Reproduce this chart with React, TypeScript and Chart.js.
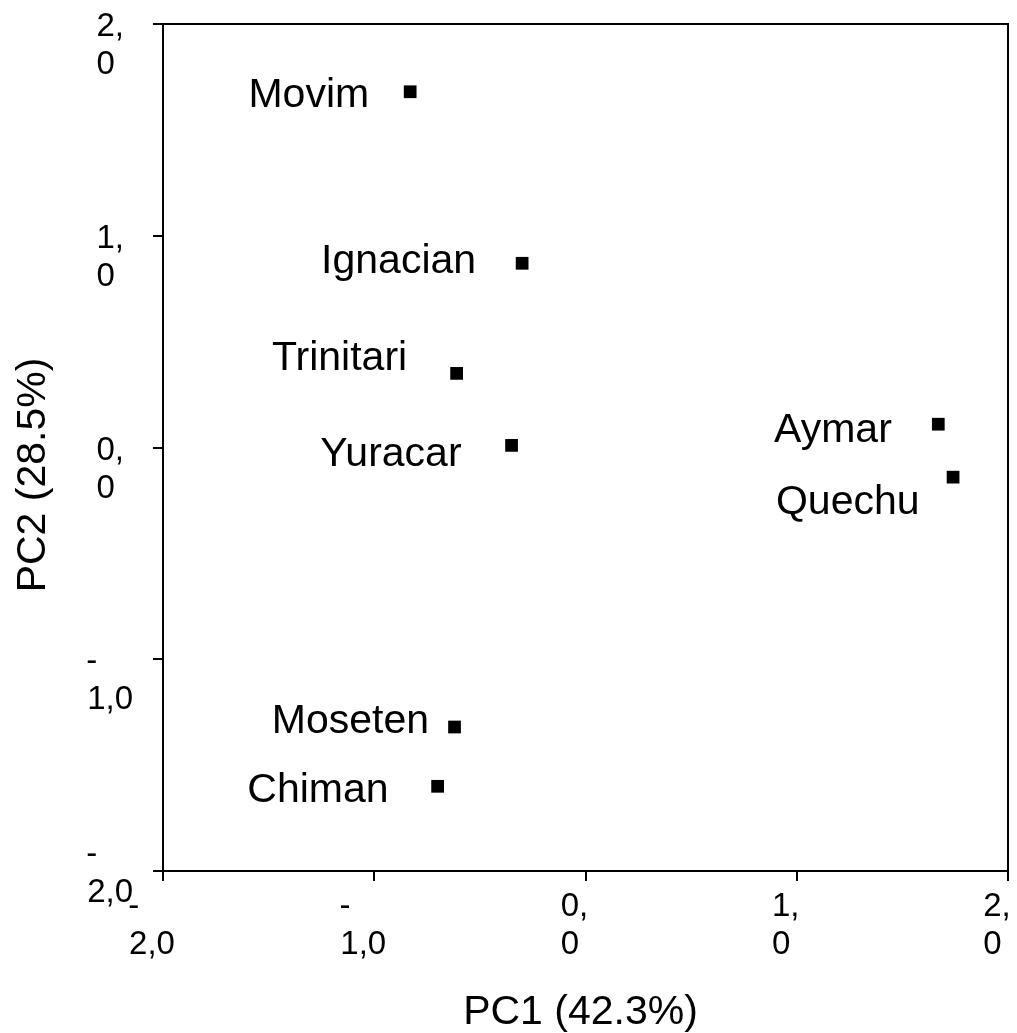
import { useEffect, useRef } from "react";
import { Chart, registerables } from "chart.js";

Chart.register(...registerables);

// Scores of each group on the first two principal components
const groups = ["Movim", "Ignacian", "Trinitari", "Yuracar", "Aymar", "Quechu", "Moseten", "Chiman"];
const pc1 = [-0.83, -0.3, -0.61, -0.35, 1.67, 1.74, -0.62, -0.7];
const pc2 = [1.68, 0.87, 0.35, 0.01, 0.11, -0.14, -1.32, -1.6];

// Tick labels are broken over two lines; trailing spaces keep the lines left-aligned
const xTickValues = [-2, -1, 0, 1, 2];
const xTickLabels = [
  ["-    ", "2,0"],
  ["-    ", "1,0"],
  ["0,", "0 "],
  ["1,", "0 "],
  ["2,", "0 "],
];
const yTickValues = [-2, -1, 0, 1, 2];
const yTickLabels = [
  ["-    ", "2,0", ""],
  ["-    ", "1,0"],
  ["0,", "0 "],
  ["1,", "0 "],
  ["2,", "0 "],
];

const xTitle = "PC1 (42.3%)";
const yTitle = "PC2 (28.5%)";

// Where each group name sits relative to its marker: [right edge dx, baseline dy]
const labelNudge = [
  [-41, 15.5],
  [-46, 9.5],
  [-49.5, -3],
  [-50, 21],
  [-46.5, 18],
  [-33.5, 37],
  [-25.5, 6],
  [-49, 16],
];

const FONT = "'Liberation Sans', Arial, sans-serif";
const W = 1017;
const H = 1033;

const pointLabels = {
  id: "pointLabels",
  afterDatasetsDraw(chart: any) {
    const ctx = chart.ctx;
    const meta = chart.getDatasetMeta(0);
    ctx.save();
    ctx.font = `41px ${FONT}`;
    ctx.fillStyle = "#000";
    ctx.textAlign = "right";
    ctx.textBaseline = "alphabetic";
    meta.data.forEach((pt: any, i: number) => {
      const [dx, dy] = labelNudge[i];
      ctx.fillText(groups[i], pt.x + dx, pt.y + dy);
    });
    ctx.restore();
  },
};

const frameAndTitles = {
  id: "frameAndTitles",
  afterDraw(chart: any) {
    const ctx = chart.ctx;
    const a = chart.chartArea;
    ctx.save();
    // top and right sides of the plot frame
    ctx.strokeStyle = "#000";
    ctx.lineWidth = 2;
    ctx.beginPath();
    ctx.moveTo(a.left, a.top);
    ctx.lineTo(a.right, a.top);
    ctx.lineTo(a.right, a.bottom);
    ctx.stroke();

    ctx.font = `41px ${FONT}`;
    ctx.fillStyle = "#000";
    ctx.textAlign = "center";
    ctx.textBaseline = "alphabetic";
    ctx.fillText(xTitle, (a.left + a.right) / 2 - 5, a.bottom + 153);

    ctx.translate(a.left - 118, (a.top + a.bottom) / 2 + 27.5);
    ctx.rotate(-Math.PI / 2);
    ctx.fillText(yTitle, 0, 0);
    ctx.restore();
  },
};

export default function App() {
  const ref = useRef<HTMLCanvasElement | null>(null);

  useEffect(() => {
    if (!ref.current) return;
    const tickFont = { family: FONT, size: 33, lineHeight: 1.15 };
    const chart = new Chart(ref.current, {
      type: "scatter",
      data: {
        datasets: [
          {
            data: pc1.map((x, i) => ({ x, y: pc2[i] })),
            pointStyle: "rect",
            pointRadius: 9,
            pointHoverRadius: 9,
            backgroundColor: "#000",
            borderWidth: 0,
          },
        ],
      },
      options: {
        responsive: false,
        animation: false,
        devicePixelRatio: 1,
        layout: { padding: { top: 24, right: 5, left: 0, bottom: 0 } },
        plugins: { legend: { display: false }, tooltip: { enabled: false } },
        scales: {
          x: {
            type: "linear",
            min: -2,
            max: 2,
            afterBuildTicks: (s: any) => {
              s.ticks = xTickValues.map((v) => ({ value: v }));
            },
            afterFit: (s: any) => {
              s.height = H - 871;
              s.paddingLeft = 0;
              s.paddingRight = 0;
            },
            ticks: {
              callback: (v: any) => xTickLabels[xTickValues.indexOf(Number(v))],
              font: tickFont,
              color: "#000",
              maxRotation: 0,
              minRotation: 0,
              autoSkip: false,
              labelOffset: -11,
              padding: 7,
            },
            grid: { drawOnChartArea: false, drawTicks: true, tickLength: 10, color: "#000", lineWidth: 2 },
            border: { display: true, color: "#000", width: 2 },
          },
          y: {
            type: "linear",
            min: -2,
            max: 2,
            afterBuildTicks: (s: any) => {
              s.ticks = yTickValues.map((v) => ({ value: v }));
            },
            afterFit: (s: any) => {
              s.width = 163;
              s.paddingTop = 0;
              s.paddingBottom = 0;
            },
            ticks: {
              callback: (v: any) => yTickLabels[yTickValues.indexOf(Number(v))],
              font: tickFont,
              color: "#000",
              autoSkip: false,
              crossAlign: "center",
              labelOffset: 22,
              padding: 19,
            },
            grid: { drawOnChartArea: false, drawTicks: true, tickLength: 10, color: "#000", lineWidth: 2 },
            border: { display: true, color: "#000", width: 2 },
          },
        },
      },
      plugins: [pointLabels, frameAndTitles],
    } as any);
    return () => chart.destroy();
  }, []);

  return (
    <div style={{ position: "fixed", left: 0, top: 0, width: W, height: H, background: "#fff" }}>
      <canvas ref={ref} width={W} height={H} style={{ display: "block" }} />
    </div>
  );
}
